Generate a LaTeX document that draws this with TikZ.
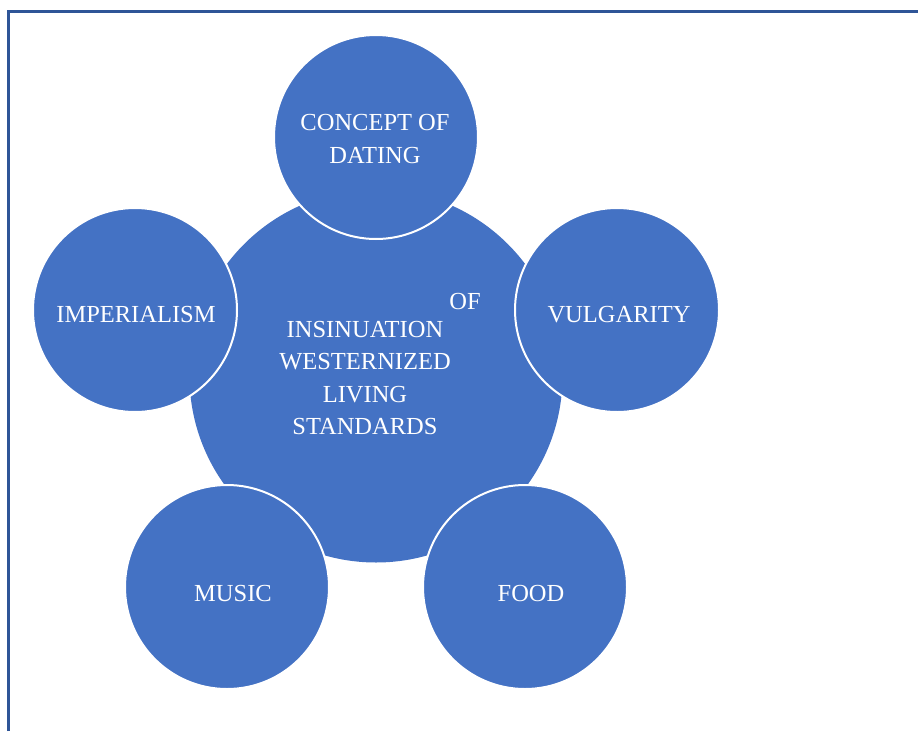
\documentclass[tikz,border=0pt]{standalone}
\usepackage{fontspec}
\setmainfont{Liberation Serif}
\usetikzlibrary{calc}
\definecolor{bubble}{HTML}{4472C4}
\definecolor{frameblue}{HTML}{2F5597}
\tikzset{
  hub/.style={circle, fill=bubble, draw=none, minimum size=373pt, inner sep=0pt},
  satellite/.style={circle, fill=bubble, draw=white, line width=2pt, minimum size=204pt, inner sep=0pt},
  caption/.style={text=white, font=\fontsize{24.5}{32.5}\selectfont, align=center, inner sep=0pt},
  framerule/.style={draw=frameblue, line width=3pt}
}
\begin{document}
\begin{tikzpicture}[x=1pt, y=-1pt]
  \useasboundingbox (0,0) rectangle (918,731);
  % page frame (open to the right and bottom)
  \coordinate (fb) at (8,731);
  \coordinate (fc) at (8,11);
  \coordinate (fr) at (918,11);
  \draw[framerule] (fb) -- (fc) -- (fr);

  % central circle
  \node[hub] (hub) at (376,376) {};

  % surrounding circles
  \node[satellite] (dating) at (376,137) {};
  \node[satellite] (vulgar) at (617,310) {};
  \node[satellite] (food)   at (525,587) {};
  \node[satellite] (music)  at (227,587) {};
  \node[satellite] (imper)  at (135,310) {};

  % labels
  \node[caption] (tdating) at ($(dating)+(-1,2)$) {CONCEPT OF\\DATING};
  \node[caption] (tvulgar) at ($(vulgar)+(2,5)$) {VULGARITY};
  \node[caption] (tfood)   at ($(food)+(6,6)$) {FOOD};
  \node[caption] (tmusic)  at ($(music)+(6,6)$) {MUSIC};
  \node[caption] (timper)  at ($(imper)+(1,5)$) {IMPERIALISM};
  \node[caption] (thubof)  at (465,302) {OF};
  \node[caption] (thub)    at (365,378) {INSINUATION\\WESTERNIZED\\LIVING\hspace*{9pt}\\STANDARDS};
\end{tikzpicture}
\end{document}
